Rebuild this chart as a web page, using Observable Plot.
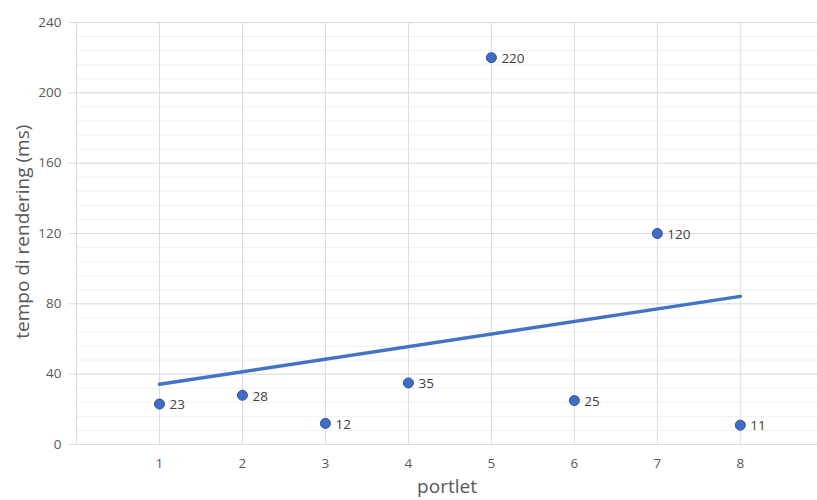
<!DOCTYPE html>
<html><head><meta charset="utf-8">
<script src="https://cdn.jsdelivr.net/npm/d3@7"></script>
<script src="https://cdn.jsdelivr.net/npm/@observablehq/plot@0.6"></script>
<style>
body{margin:0;background:#fff;}
svg{font-family:"Open Sans",sans-serif;}
</style>
</head><body><div id="chart"></div>
<script>
const portlet = [1,2,3,4,5,6,7,8];
const tempo = [23,28,12,35,220,25,120,11];
const yTicks = [0,40,80,120,160,200,240];
const yMinor = d3.range(0,241,8);
const xTicks = [1,2,3,4,5,6,7,8];
const data = portlet.map((p,i)=>({x:p,y:tempo[i]}));
const grid = "#d9dde3";
const plot = Plot.plot({
  width: 817, height: 500,
  marginLeft: 76, marginRight: 0, marginTop: 22, marginBottom: 56,
  x: {domain:[0,8.93], label:null},
  y: {domain:[0,240], label:null},
  style:{fontSize:"13px", color:"#595959"},
  marks: [
    Plot.ruleY(yMinor, {stroke:"#eef0f3", strokeWidth:1}),
    Plot.ruleY(yTicks, {stroke:grid, strokeWidth:1}),
    Plot.ruleX(xTicks, {stroke:grid, strokeWidth:1}),
    Plot.ruleX([0], {stroke:grid, strokeWidth:1}),
    Plot.ruleY(yTicks, {x1:-0.09, x2:0, stroke:grid, strokeWidth:1}),
    Plot.axisY({ticks:yTicks, tickSize:0, tickPadding:15, fontSize:13.5}),
    Plot.axisX({ticks:xTicks, tickSize:0, tickPadding:14, fontSize:13.5}),
    Plot.linearRegressionY(data, {x:"x", y:"y", ci:0, stroke:"#4472C4", strokeWidth:3.5}),
    Plot.dot(data, {x:"x", y:"y", r:5, fill:"#3E6CC6", stroke:"#2F528F", strokeWidth:1}),
    Plot.text(data, {x:"x", y:"y", text:d=>String(d.y), dx:10, textAnchor:"start", fontSize:13.5, fill:"#404040", dy:1}),
    Plot.text(["portlet"], {frameAnchor:"bottom", dy:48, fontSize:19, fill:"#595959"}),
    Plot.text(["tempo di rendering (ms)"], {x:()=>-0.65, y:()=>121, rotate:-90, fontSize:19, fill:"#595959"})
  ]
});
document.getElementById("chart").appendChild(plot);
</script>
</body></html>
